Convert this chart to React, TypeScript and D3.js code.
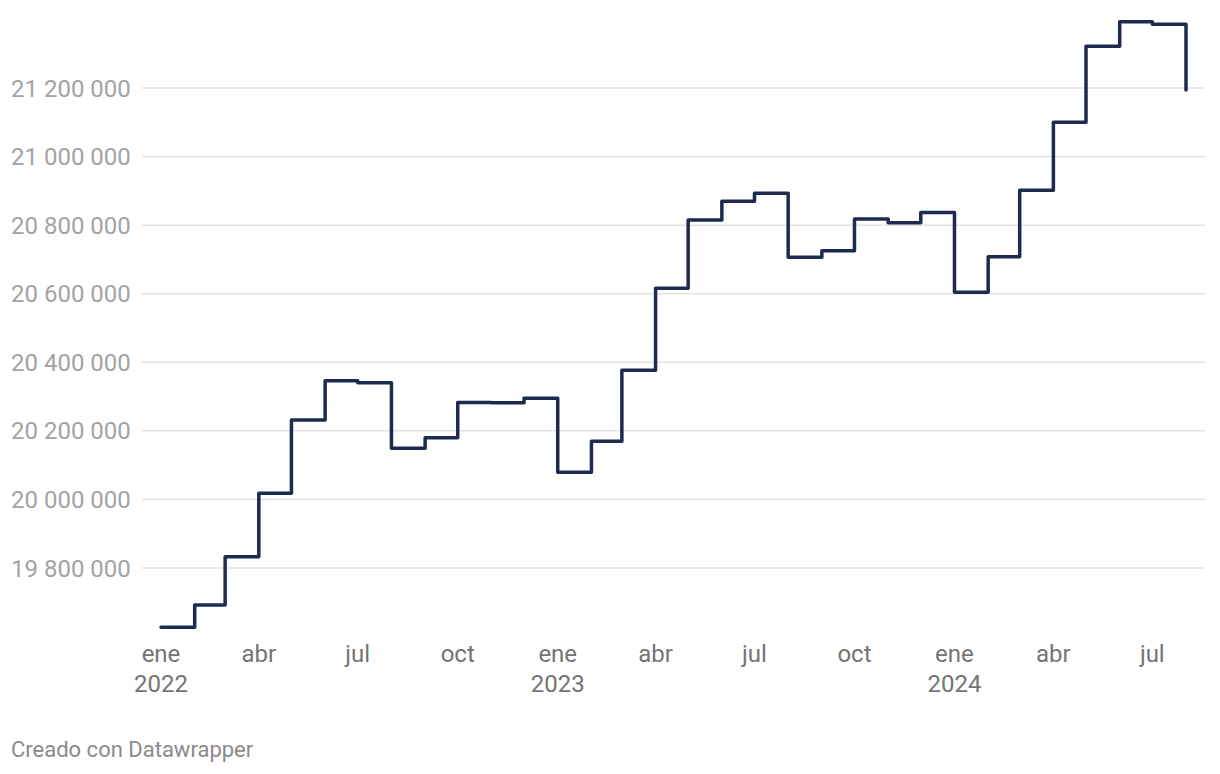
import React from "react";
import { scaleLinear, scaleTime, line, curveStepAfter } from "d3";

// monthly values, jan 2022 .. aug 2024
const months = [
  "2022-01", "2022-02", "2022-03", "2022-04", "2022-05", "2022-06",
  "2022-07", "2022-08", "2022-09", "2022-10", "2022-11", "2022-12",
  "2023-01", "2023-02", "2023-03", "2023-04", "2023-05", "2023-06",
  "2023-07", "2023-08", "2023-09", "2023-10", "2023-11", "2023-12",
  "2024-01", "2024-02", "2024-03", "2024-04", "2024-05", "2024-06",
  "2024-07", "2024-08",
];
const values = [
  19627000, 19692000, 19833000, 20018000, 20232000, 20346000,
  20340000, 20149000, 20180000, 20283000, 20282000, 20295000,
  20079000, 20170000, 20377000, 20616000, 20815000, 20870000,
  20893000, 20706000, 20725000, 20818000, 20807000, 20837000,
  20604000, 20708000, 20902000, 21100000, 21322000, 21393000,
  21386000, 21194000,
];
const yTicks = [19800000, 20000000, 20200000, 20400000, 20600000, 20800000, 21000000, 21200000];
const xTicks = [
  "2022-01", "2022-04", "2022-07", "2022-10",
  "2023-01", "2023-04", "2023-07", "2023-10",
  "2024-01", "2024-04", "2024-07",
];
const monthNames = ["ene", "feb", "mar", "abr", "may", "jun", "jul", "ago", "sep", "oct", "nov", "dic"];

const W = 1220;
const H = 774;
const FONT = "Roboto, 'Noto Sans', sans-serif";

const parse = (s: string) => {
  const [y, m] = s.split("-").map(Number);
  return new Date(y, m - 1, 1);
};

const fmt = (v: number) => String(v).replace(/\B(?=(\d{3})+(?!\d))/g, " ");

export default function App() {
  const x = scaleTime()
    .domain([parse("2022-01"), parse("2024-08")])
    .range([161, 1186]);
  const y = scaleLinear().domain([19800000, 21200000]).range([568, 88]);

  const data = months.map((m, i) => ({ d: parse(m), v: values[i] }));
  const path = line<{ d: Date; v: number }>()
    .x((p) => x(p.d))
    .y((p) => y(p.v))
    .curve(curveStepAfter)(data);

  return (
    <div style={{ margin: -8 }}>
      <svg width={W} height={H} style={{ display: "block", background: "#fff" }}>
        <g>
          {yTicks.map((t) => (
            <g key={t}>
              <line x1={142} x2={1205} y1={y(t)} y2={y(t)} stroke="#e3e3e3" strokeWidth={1.5} />
              <text
                x={11}
                y={y(t) + 8.6}
                fontFamily={FONT}
                fontSize={24}
                fill="#a3a3a3"
              >
                {fmt(t)}
              </text>
            </g>
          ))}
        </g>
        <g>
          {xTicks.map((t) => {
            const d = parse(t);
            const m = d.getMonth();
            return (
              <text
                key={t}
                x={x(d)}
                y={662}
                textAnchor="middle"
                fontFamily={FONT}
                fontSize={24}
                fill="#747474"
              >
                {monthNames[m]}
                {m === 0 && (
                  <tspan x={x(d)} dy={30}>
                    {d.getFullYear()}
                  </tspan>
                )}
              </text>
            );
          })}
        </g>
        <path
          d={path ?? ""}
          fill="none"
          stroke="#1f2a50"
          strokeWidth={3.5}
          strokeLinejoin="round"
          strokeLinecap="round"
        />
        <text x={11} y={757} fontFamily={FONT} fontSize={22} fill="#8a8a8a">
          Creado con Datawrapper
        </text>
      </svg>
    </div>
  );
}
